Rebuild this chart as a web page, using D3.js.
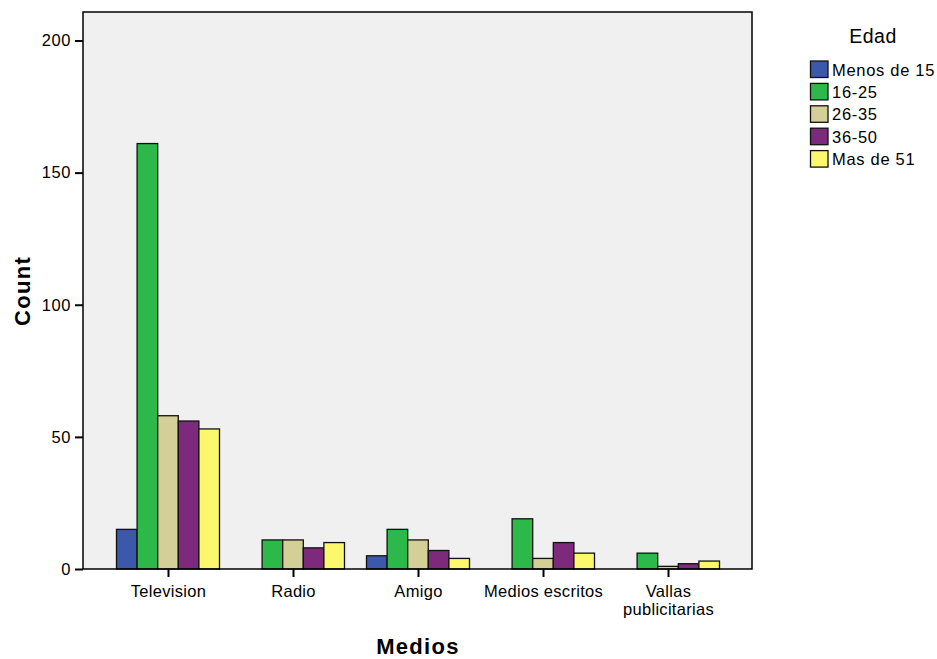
<!DOCTYPE html>
<html><head><meta charset="utf-8">
<script src="https://cdn.jsdelivr.net/npm/d3@7"></script>
<style>body{margin:0;background:#fff;} text{font-family:Arial,"Liberation Sans",sans-serif;}</style>
</head><body><svg id="c" width="937" height="659"></svg>
<script>
const categories = ["Television","Radio","Amigo","Medios escritos","Vallas publicitarias"];
const groups = ["Menos de 15","16-25","26-35","36-50","Mas de 51"];
const menos15 = [15, 0, 5, 0, 0];
const e16_25 = [161, 11, 15, 19, 6];
const e26_35 = [58, 11, 11, 4, 1];
const e36_50 = [56, 8, 7, 10, 2];
const mas51 = [53, 10, 4, 6, 3];
const yTicks = [0, 50, 100, 150, 200];
const colors = ["#3c58aa","#2db84a","#d4ce97","#7d2a7c","#fbf86e"];
const series = [menos15, e16_25, e26_35, e36_50, mas51];

const svg = d3.select("#c");
const L = 83, R = 752, T = 12, B = 569;
const x = d3.scalePoint().domain(categories).range([168, 668]);
const y = d3.scaleLinear().domain([0, 200]).range([B, 40.5]);
const bw = 20.6;
const xs = d3.scaleBand().domain(groups).range([-bw*2.5, bw*2.5]);

svg.append("rect").attr("x", L).attr("y", T).attr("width", R-L).attr("height", B-T)
  .attr("fill", "#f0f0f0");

series.forEach((vals, si) => {
  svg.append("g").selectAll("rect").data(vals.map((v,i)=>({v, c: categories[i]})))
    .join("rect")
    .filter(d => d.v > 0)
    .attr("x", d => x(d.c) + xs(groups[si]))
    .attr("y", d => y(d.v))
    .attr("width", xs.bandwidth())
    .attr("height", d => B - y(d.v))
    .attr("fill", colors[si]).attr("stroke", "#111").attr("stroke-width", 1.3);
});

svg.append("rect").attr("x", L).attr("y", T).attr("width", R-L).attr("height", B-T)
  .attr("fill", "none").attr("stroke", "#000").attr("stroke-width", 1.5);

const ya = svg.append("g").attr("transform", `translate(${L},0)`)
  .call(d3.axisLeft(y).tickValues(yTicks).tickSize(8).tickPadding(4).tickFormat(d3.format("d")));
ya.select(".domain").remove();
ya.selectAll("line").attr("stroke", "#000").attr("stroke-width", 2);
ya.selectAll("text").attr("font-size", 16.5).attr("letter-spacing", "0.6px").attr("fill", "#000")
  .attr("font-family", "Arial, 'Liberation Sans', sans-serif");

const xa = svg.append("g").attr("transform", `translate(0,${B})`)
  .call(d3.axisBottom(x).tickSize(8).tickPadding(8));
xa.select(".domain").remove();
xa.selectAll("line").attr("stroke", "#000").attr("stroke-width", 2);
xa.selectAll("text").attr("font-size", 16.5).attr("letter-spacing", "0.3px").attr("fill", "#000")
  .attr("font-family", "Arial, 'Liberation Sans', sans-serif")
  .each(function(d){
    const t = d3.select(this);
    if (d === "Vallas publicitarias") {
      t.text(null);
      t.append("tspan").attr("x", 0).attr("dy", "0.71em").text("Vallas");
      t.append("tspan").attr("x", 0).attr("dy", "1.1em").text("publicitarias");
      t.attr("dy", null);
    }
  });

svg.append("text").attr("x", 418).attr("y", 653.5).attr("text-anchor", "middle")
  .attr("font-size", 22).attr("font-weight", "bold").attr("letter-spacing", "1.3px").text("Medios");
svg.append("text").attr("transform", "translate(30,291) rotate(-90)").attr("text-anchor", "middle")
  .attr("font-size", 22).attr("font-weight", "bold").attr("letter-spacing", "1.3px").text("Count");

const lg = svg.append("g");
lg.append("text").attr("x", 873).attr("y", 43).attr("text-anchor", "middle")
  .attr("font-size", 19.5).attr("letter-spacing", "0.5px").text("Edad");
groups.forEach((g, i) => {
  const yy = 61 + i * 22.4;
  lg.append("rect").attr("x", 810.5).attr("y", yy).attr("width", 17.5).attr("height", 16.5)
    .attr("fill", colors[i]).attr("stroke", "#111").attr("stroke-width", 1.3);
  lg.append("text").attr("x", 832).attr("y", yy + 14.5).attr("font-size", 16.5)
    .attr("letter-spacing", "0.7px").text(g);
});
</script></body></html>
